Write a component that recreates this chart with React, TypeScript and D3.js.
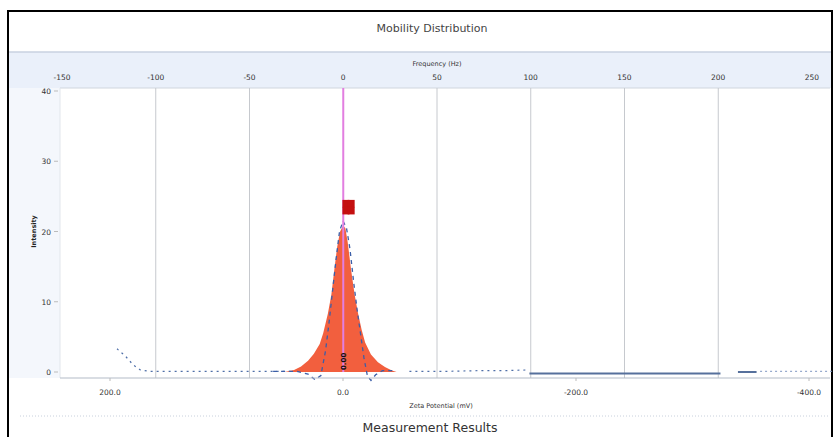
import * as d3 from 'd3'

const W = 836
const H = 437
const PLOT = { left: 60, right: 830, top: 88, bottom: 378 }

const freqTicks = [-150, -100, -50, 0, 50, 100, 150, 200, 250]
const freqLabels = ['-150', '-100', '-50', '0', '50', '100', '150', '200', '250']
const gridFreq = [-100, -50, 50, 100, 150, 200]
const zetaTicks = [200, 0, -200, -400]
const zetaLabels = ['200.0', '0.0', '-200.0', '-400.0']
const yTicks = [0, 10, 20, 30, 40]

// measured distribution (zeta mV, intensity)
const peakZeta = [50, 42, 36, 30, 25, 20, 17, 13, 10, 7.5, 5, 2.5, 0, -2, -4, -7, -10, -13, -16, -19, -24, -30, -36, -42, -46]
const peakInt = [0, 0.3, 0.8, 1.6, 2.6, 4, 5.5, 8.3, 11, 14.5, 17.8, 20, 20.8, 20.5, 18.5, 14.5, 11, 8.3, 6, 4.2, 2.5, 1.4, 0.7, 0.2, 0]

// fitted curve (dashed)
const fitZeta = [60, 40, 30, 24, 19, 15, 12, 9, 6, 3, 0, -3, -6, -9, -12, -15, -18, -21, -24, -28, -34, -45]
const fitInt = [0.1, 0.1, -0.3, -1.1, -0.5, 3, 7, 11.5, 16, 20, 21.5, 20.5, 17.5, 13, 9, 5.5, 2, -0.6, -1.2, -0.4, 0.2, 0.2]

// baseline tails
const leftZeta = [194, 187, 180, 174, 166, 140, 110, 80, 45]
const leftInt = [3.3, 2.3, 1.0, 0.3, 0.1, 0.1, 0.1, 0.1, 0.1]
const rightZeta = [-57, -90, -120, -140, -160]
const rightInt = [0.1, 0.1, 0.2, 0.2, 0.3]
const solidZeta = [-160, -324]
const solidInt = [-0.2, -0.2]
const solid2Zeta = [-339, -355]
const solid2Int = [0, 0]
const tailZeta = [-358, -420]
const tailInt = [0.1, 0.1]

const markerZeta = [-2.5, -7, -2.5, -7]
const markerInt = [24.0, 24.0, 23.0, 23.0]

const FONT = '"DejaVu Sans", Verdana, sans-serif'

export default function App() {
  const fx = d3.scaleLinear().domain([-150, 250]).range([62, 812])
  const zx = d3.scaleLinear().domain([200, -400]).range([110, 809])
  const y = d3.scaleLinear().domain([0, 40]).range([372, 91])

  const zip = (xs: number[], ys: number[]) => xs.map((v, i) => [v, ys[i]] as [number, number])
  const line = d3.line<[number, number]>().x(d => zx(d[0])).y(d => y(d[1]))
  const area = d3.area<[number, number]>().x(d => zx(d[0])).y0(y(0)).y1(d => y(d[1]))

  return (
    <svg width={W} height={H} style={{ position: 'absolute', left: 0, top: 0, fontFamily: FONT }}>
      <rect x={0} y={0} width={W} height={H} fill="#fff" />
      <rect x={8} y={11} width={824} height={440} fill="#fff" stroke="#000" strokeWidth={2} />
      <text x={432} y={32} textAnchor="middle" fontSize={11} fill="#444">Mobility Distribution</text>

      {/* header band */}
      <rect x={9} y={52} width={822} height={36} fill="#eaf0fa" />
      <line x1={9} x2={831} y1={52} y2={52} stroke="#c9d2e0" strokeWidth={1.5} />
      <rect x={9} y={88} width={51} height={290} fill="#f4f7fc" />
      <rect x={PLOT.left} y={PLOT.top} width={PLOT.right - PLOT.left} height={PLOT.bottom - PLOT.top} fill="#fff" />
      <line x1={PLOT.left} x2={PLOT.right} y1={PLOT.top} y2={PLOT.top} stroke="#d0d6de" />
      <line x1={PLOT.left} x2={PLOT.left} y1={PLOT.top} y2={PLOT.bottom} stroke="#e2e6ec" />

      <text x={437} y={66} textAnchor="middle" fontSize={6.5} fill="#333">Frequency (Hz)</text>
      {freqTicks.map((t, i) => (
        <text key={t} x={fx(t)} y={80} textAnchor="middle" fontSize={7.5} fill="#333">{freqLabels[i]}</text>
      ))}

      {gridFreq.map(t => (
        <line key={t} x1={fx(t)} x2={fx(t)} y1={PLOT.top} y2={PLOT.bottom} stroke="#c6c9ce" />
      ))}

      {/* y axis */}
      {yTicks.map(t => (
        <g key={t}>
          <text x={51} y={y(t) + 3} textAnchor="end" fontSize={7.5} fill="#333">{t}</text>
          <line x1={54} x2={58} y1={y(t)} y2={y(t)} stroke="#bbb" />
        </g>
      ))}
      <text transform={`translate(36,${y(20)}) rotate(-90)`} textAnchor="middle" fontSize={6.5} fontWeight="bold" fill="#222">Intensity</text>

      {/* blue baseline tails */}
      <path d={line(zip(leftZeta, leftInt)) ?? ''} fill="none" stroke="#4f6fa8" strokeWidth={1.2} strokeDasharray="2,4" />
      <path d={line(zip(rightZeta, rightInt)) ?? ''} fill="none" stroke="#4f6fa8" strokeWidth={1.2} strokeDasharray="2,4" />
      <path d={line(zip(tailZeta, tailInt)) ?? ''} fill="none" stroke="#7d95c0" strokeWidth={1} strokeDasharray="2,3" />
      <path d={line(zip(solidZeta, solidInt)) ?? ''} fill="none" stroke="#56709c" strokeWidth={2} />
      <path d={line(zip(solid2Zeta, solid2Int)) ?? ''} fill="none" stroke="#56709c" strokeWidth={2} />

      {/* peak */}
      <path d={area(zip(peakZeta, peakInt)) ?? ''} fill="#f25f3e" />
      <path d={line(zip(fitZeta, fitInt)) ?? ''} fill="none" stroke="#3b5ea8" strokeWidth={1.3} strokeDasharray="4,4" />

      <line x1={fx(0)} x2={fx(0)} y1={PLOT.top} y2={y(0)} stroke="#e27ee0" strokeWidth={2} />
      <text transform={`translate(${fx(0) + 3},${y(0) - 2}) rotate(-90)`} fontSize={7} fontWeight="bold" fill="#111">0.00</text>

      {zip(markerZeta, markerInt).map((d, i) => (
        <rect key={i} x={zx(d[0]) - 3.5} y={y(d[1]) - 3.5} width={7} height={7.5} fill="#c41010" />
      ))}

      {/* bottom axis */}
      <line x1={PLOT.left} x2={PLOT.right} y1={PLOT.bottom} y2={PLOT.bottom} stroke="#b4bcc8" strokeWidth={1.2} />
      {zetaTicks.map((t, i) => (
        <g key={t}>
          <line x1={zx(t)} x2={zx(t)} y1={PLOT.bottom} y2={PLOT.bottom + 3} stroke="#bbb" />
          <text x={zx(t)} y={395} textAnchor="middle" fontSize={7.5} fill="#333">{zetaLabels[i]}</text>
        </g>
      ))}
      <text x={441} y={408} textAnchor="middle" fontSize={6.5} fill="#333">Zeta Potential (mV)</text>

      <line x1={20} x2={830} y1={416} y2={416} stroke="#c8d0dc" strokeDasharray="1,2" />
      <text x={430} y={432} textAnchor="middle" fontSize={12.5} fill="#333">Measurement Results</text>
    </svg>
  )
}
